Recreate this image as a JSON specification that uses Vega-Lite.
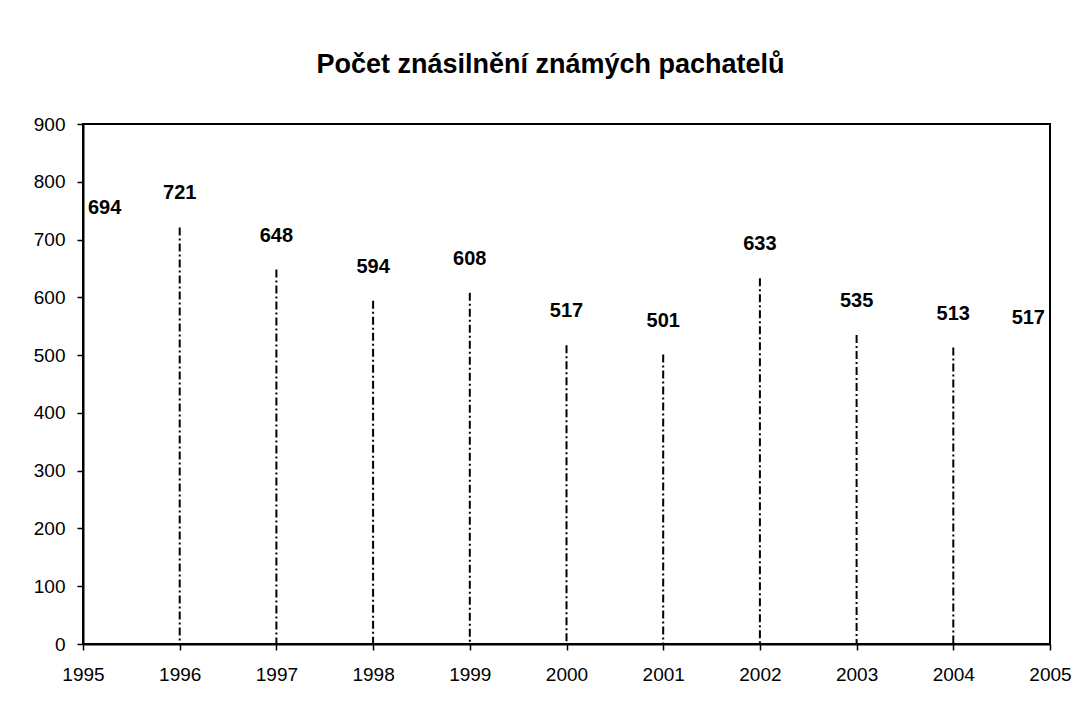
{
  "$schema": "https://vega.github.io/schema/vega-lite/v6.json",
  "width": 967,
  "height": 520,
  "autosize": {"type": "none"},
  "padding": {"left": 83, "top": 124, "right": 33, "bottom": 61},
  "background": "white",
  "title": {
    "text": "Počet znásilnění známých pachatelů",
    "font": "Liberation Sans",
    "fontSize": 27,
    "fontWeight": "bold",
    "color": "black",
    "anchor": "middle",
    "dx": -16,
    "offset": 9,
    "baseline": "bottom"
  },
  "data": {
    "values": [
      {"year": 1995, "count": 694},
      {"year": 1996, "count": 721},
      {"year": 1997, "count": 648},
      {"year": 1998, "count": 594},
      {"year": 1999, "count": 608},
      {"year": 2000, "count": 517},
      {"year": 2001, "count": 501},
      {"year": 2002, "count": 633},
      {"year": 2003, "count": 535},
      {"year": 2004, "count": 513},
      {"year": 2005, "count": 517}
    ]
  },
  "encoding": {
    "x": {
      "field": "year",
      "type": "quantitative",
      "scale": {"domain": [1995, 2005], "nice": false, "zero": false},
      "axis": {
        "title": null,
        "values": [1995, 1996, 1997, 1998, 1999, 2000, 2001, 2002, 2003, 2004, 2005],
        "format": "d",
        "grid": false,
        "domainColor": "black",
        "domainWidth": 2,
        "tickColor": "black",
        "tickWidth": 1.5,
        "tickSize": 6,
        "labelFont": "Liberation Sans",
        "labelFontSize": 19,
        "labelColor": "black",
        "labelPadding": 15,
        "labelFlush": false,
        "labelOverlap": false
      }
    },
    "y": {
      "field": "count",
      "type": "quantitative",
      "scale": {"domain": [0, 900], "nice": false},
      "axis": {
        "title": null,
        "values": [0, 100, 200, 300, 400, 500, 600, 700, 800, 900],
        "grid": false,
        "domainColor": "black",
        "domainWidth": 2,
        "tickColor": "black",
        "tickWidth": 1.5,
        "tickSize": 6,
        "labelFont": "Liberation Sans",
        "labelFontSize": 19,
        "labelColor": "black",
        "labelPadding": 12,
        "labelOverlap": false
      }
    }
  },
  "layer": [
    {
      "mark": {"type": "rule", "strokeDash": [8, 3, 2, 3], "strokeWidth": 2, "color": "black"},
      "encoding": {"y2": {"datum": 0}}
    },
    {
      "transform": [{"filter": "datum.year > 1995 && datum.year < 2005"}],
      "mark": {"type": "text", "font": "Liberation Sans", "fontSize": 20, "fontWeight": "bold", "color": "black", "align": "center", "baseline": "middle", "dy": -34},
      "encoding": {"text": {"field": "count", "type": "quantitative"}}
    },
    {
      "transform": [{"filter": "datum.year == 1995"}],
      "mark": {"type": "text", "font": "Liberation Sans", "fontSize": 20, "fontWeight": "bold", "color": "black", "align": "left", "baseline": "middle", "dy": -35, "dx": 5},
      "encoding": {"text": {"field": "count", "type": "quantitative"}}
    },
    {
      "transform": [{"filter": "datum.year == 2005"}],
      "mark": {"type": "text", "font": "Liberation Sans", "fontSize": 20, "fontWeight": "bold", "color": "black", "align": "right", "baseline": "middle", "dy": -27, "dx": -5},
      "encoding": {"text": {"field": "count", "type": "quantitative"}}
    }
  ],
  "config": {
    "view": {"stroke": "black", "strokeWidth": 2}
  }
}
